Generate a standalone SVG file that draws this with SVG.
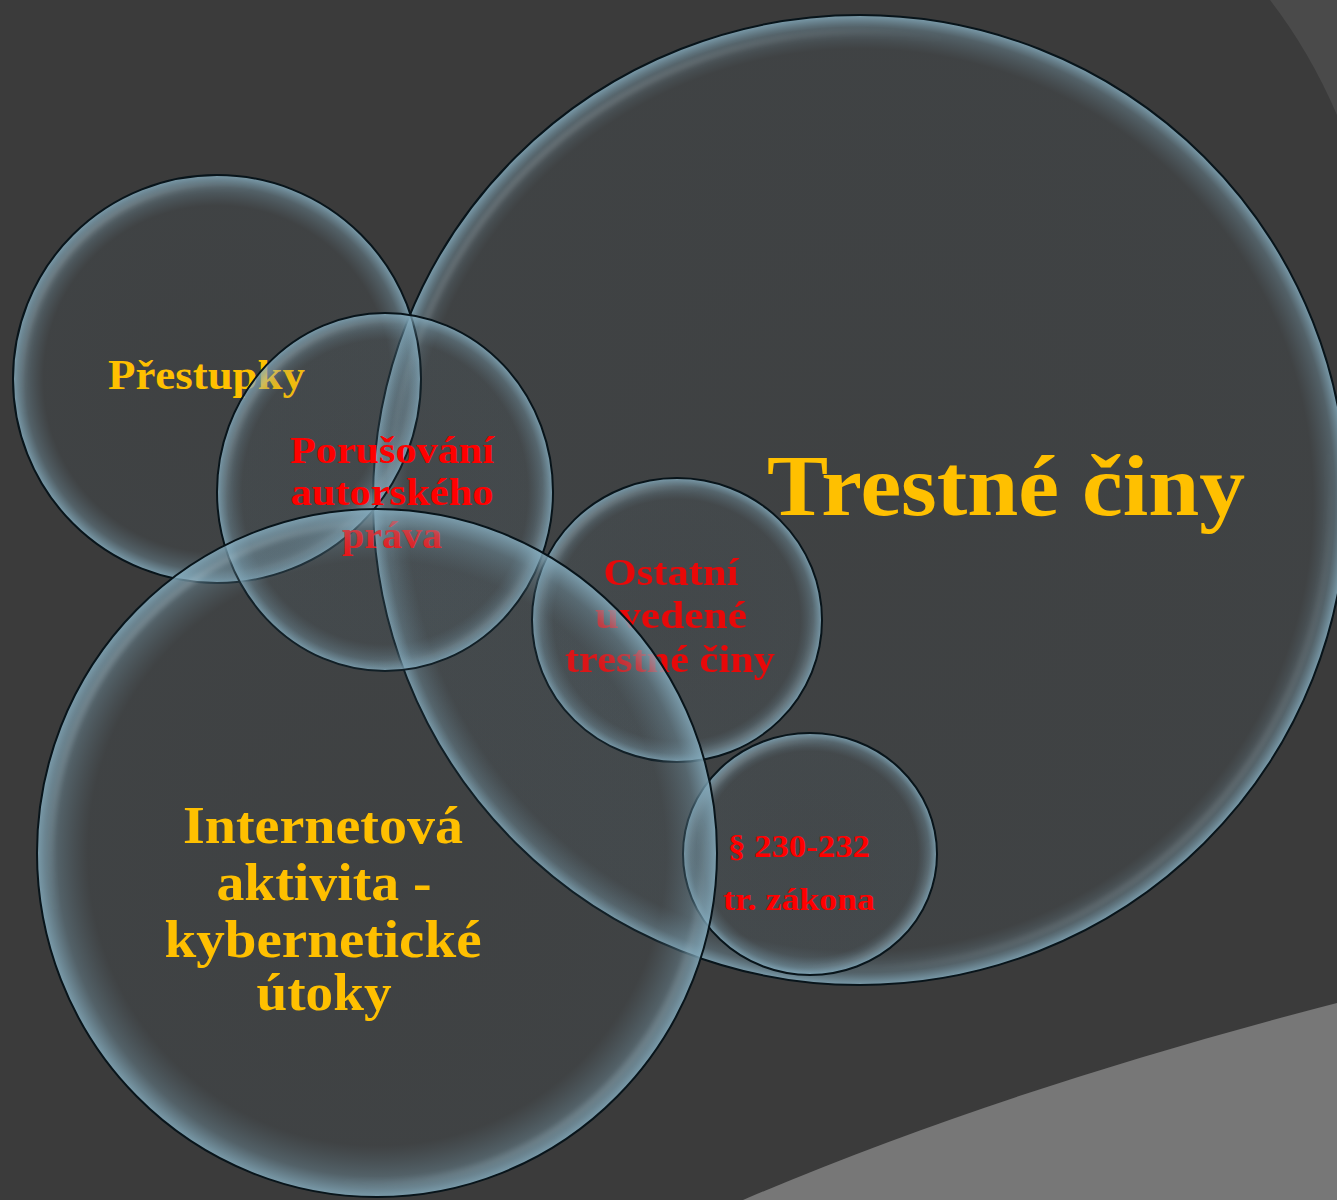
<svg xmlns="http://www.w3.org/2000/svg" width="1337" height="1200" viewBox="0 0 1337 1200">
<defs>
<style>
.bg{fill:#3b3b3b}
.body{fill:url(#bub);stroke:#08141a;stroke-width:2}
.bodyL{fill:url(#bubL);stroke:#08141a;stroke-width:2}
.glare{fill:none;stroke:url(#gl);stroke-width:5;filter:url(#blur)}
.y{fill:#ffc000;font-family:"Liberation Serif","Times New Roman",serif;font-weight:bold}
.r{fill:#ff0000;font-family:"Liberation Serif","Times New Roman",serif;font-weight:bold;text-anchor:middle}
.c{text-anchor:middle}
</style>
<radialGradient id="bub" cx="0.5" cy="0.5" r="0.5">
<stop offset="0" stop-color="#6a8796" stop-opacity="0.08"/>
<stop offset="0.85" stop-color="#6a8796" stop-opacity="0.1"/>
<stop offset="0.94" stop-color="#7aa0b2" stop-opacity="0.38"/>
<stop offset="1" stop-color="#86adbf" stop-opacity="0.85"/>
</radialGradient>
<radialGradient id="bubL" cx="0.5" cy="0.5" r="0.5">
<stop offset="0" stop-color="#6a8796" stop-opacity="0.08"/>
<stop offset="0.93" stop-color="#6a8796" stop-opacity="0.1"/>
<stop offset="0.975" stop-color="#7aa0b2" stop-opacity="0.38"/>
<stop offset="1" stop-color="#86adbf" stop-opacity="0.85"/>
</radialGradient>
<linearGradient id="gl" x1="0" y1="0" x2="1" y2="1">
<stop offset="0" stop-color="#ffffff" stop-opacity="0.3"/>
<stop offset="0.3" stop-color="#ffffff" stop-opacity="0"/>
<stop offset="0.72" stop-color="#ffffff" stop-opacity="0"/>
<stop offset="1" stop-color="#ffffff" stop-opacity="0.22"/>
</linearGradient>
<filter id="blur" x="-10%" y="-10%" width="120%" height="120%"><feGaussianBlur stdDeviation="2.5"/></filter>
</defs>
<rect class="bg" x="0" y="0" width="1337" height="1200"/>
<path d="M1270,0 Q1310,52 1337,115 L1337,0 Z" fill="#4a4a4a"/>
<path d="M743,1200 Q1000,1090 1337,1003 L1337,1200 Z" fill="#777777"/>

<g id="trestne-ciny">
<ellipse class="bodyL" cx="860" cy="500" rx="487" ry="485"/>
<ellipse class="glare" cx="860" cy="500" rx="470" ry="468"/>
<text class="y" x="767" y="515" font-size="86" textLength="478" lengthAdjust="spacingAndGlyphs">Trestné činy</text>
</g>

<g id="prestupky">
<circle class="body" cx="217" cy="379" r="204"/>
<circle class="glare" cx="217" cy="379" r="194"/>
<text class="y" x="108" y="389" font-size="42" textLength="197" lengthAdjust="spacingAndGlyphs">Přestupky</text>
</g>

<g id="porusovani">
<ellipse class="body" cx="385" cy="492" rx="168" ry="179"/>
<ellipse class="glare" cx="385" cy="492" rx="159" ry="170"/>
<text class="r" x="392" y="463" font-size="38" textLength="204" lengthAdjust="spacingAndGlyphs">Porušování</text>
<text class="r" x="392" y="505" font-size="38" textLength="203" lengthAdjust="spacingAndGlyphs">autorského</text>
<text class="r" x="392" y="548" font-size="38" textLength="100" lengthAdjust="spacingAndGlyphs">práva</text>
</g>

<g id="ostatni">
<ellipse class="body" cx="677" cy="620" rx="145" ry="142"/>
<ellipse class="glare" cx="677" cy="620" rx="137" ry="134"/>
<text class="r" x="671" y="585" font-size="38" textLength="135" lengthAdjust="spacingAndGlyphs" opacity="0.88">Ostatní</text>
<text class="r" x="671" y="628" font-size="38" textLength="152" lengthAdjust="spacingAndGlyphs" opacity="0.88">uvedené</text>
<text class="r" x="670" y="672" font-size="38" textLength="210" lengthAdjust="spacingAndGlyphs" opacity="0.88">trestné činy</text>
</g>

<g id="paragraf">
<ellipse class="body" cx="810" cy="854" rx="127" ry="121"/>
<ellipse class="glare" cx="810" cy="854" rx="120" ry="114"/>
<text class="r" x="799" y="857" font-size="32" textLength="142" lengthAdjust="spacingAndGlyphs">§ 230-232</text>
<text class="r" x="799" y="910" font-size="32" textLength="152" lengthAdjust="spacingAndGlyphs">tr. zákona</text>
</g>

<g id="internetova">
<ellipse class="body" cx="377" cy="853" rx="340" ry="344"/>
<ellipse class="glare" cx="377" cy="853" rx="326" ry="330"/>
<text class="y c" x="323" y="843" font-size="52" textLength="280" lengthAdjust="spacingAndGlyphs">Internetová</text>
<text class="y c" x="324" y="900" font-size="52" textLength="215" lengthAdjust="spacingAndGlyphs">aktivita -</text>
<text class="y c" x="323" y="957" font-size="52" textLength="317" lengthAdjust="spacingAndGlyphs">kybernetické</text>
<text class="y c" x="324" y="1010" font-size="52" textLength="135" lengthAdjust="spacingAndGlyphs">útoky</text>
</g>

<g id="connectors"></g>
</svg>
